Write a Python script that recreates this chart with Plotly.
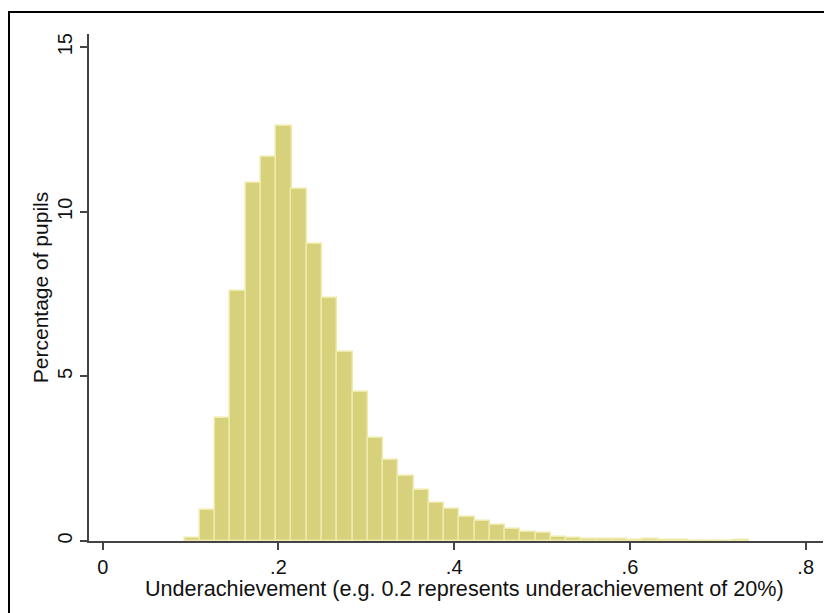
import plotly.graph_objects as go

# Histogram bins (centres, width) and percentages
bin_centers = [0.1020, 0.1194, 0.1367, 0.1541, 0.1714, 0.1888, 0.2062, 0.2235,
               0.2409, 0.2582, 0.2756, 0.2930, 0.3103, 0.3277, 0.3450, 0.3624,
               0.3798, 0.3971, 0.4145, 0.4318, 0.4492, 0.4666, 0.4839, 0.5013,
               0.5186, 0.5360, 0.5534, 0.5707, 0.5881, 0.6054, 0.6228, 0.6402,
               0.6575, 0.6749, 0.6922, 0.7096, 0.7270]
bin_width = 0.01736
pct_pupils = [0.10, 0.93, 3.74, 7.59, 10.86, 11.67, 12.60, 10.70,
              9.01, 7.37, 5.75, 4.53, 3.14, 2.45, 1.98, 1.55,
              1.14, 0.97, 0.74, 0.62, 0.49, 0.36, 0.26, 0.25,
              0.13, 0.10, 0.07, 0.06, 0.05, 0.03, 0.07, 0.04,
              0.03, 0.0, 0.0, 0.0, 0.02]

x_tickvals = [0, 0.2, 0.4, 0.6, 0.8]
x_ticktext = ["0", ".2", ".4", ".6", ".8"]
y_tickvals = [0, 5, 10, 15]
y_ticktext = ["0", "5", "10", "15"]

x_title = "Underachievement (e.g. 0.2 represents underachievement of 20%)"
y_title = "Percentage of pupils"

fig = go.Figure(go.Bar(
    x=bin_centers, y=pct_pupils, width=bin_width,
    marker=dict(color="rgb(216,209,124)",
                line=dict(color="rgb(238,234,170)", width=1.5)),
    hoverinfo="x+y",
))

# page body adds an 8px offset, margins compensate for it
PL, PR, PT, PB = 89, 823, 34, 541   # plot area in page pixels
PW, PH = PR - PL, PB - PT

axis_col = "#444444"
fig.update_layout(
    width=832, height=613,
    margin=dict(l=81, r=17, t=26, b=80),
    paper_bgcolor="white", plot_bgcolor="white",
    font=dict(family="Liberation Sans, Arial, sans-serif", color="#111111", size=20),
    showlegend=False,
    bargap=0,
    xaxis=dict(range=[-0.0156, 0.8197], tickvals=x_tickvals, ticktext=x_ticktext,
               showline=True, linecolor=axis_col, linewidth=1.5,
               ticks="outside", ticklen=7, tickwidth=1.5, tickcolor=axis_col,
               showgrid=False, zeroline=False, automargin=False,
               tickfont=dict(size=20)),
    yaxis=dict(range=[0, 15.4], tickvals=y_tickvals, ticktext=y_ticktext,
               showline=True, linecolor=axis_col, linewidth=1.5,
               ticks="outside", ticklen=7, tickwidth=1.5, tickcolor=axis_col,
               showgrid=False, zeroline=False, tickangle=-90, automargin=False,
               tickfont=dict(size=20),
               title=dict(text=y_title, font=dict(size=21), standoff=0)),
    annotations=[dict(text=x_title, xref="paper", yref="paper",
                      x=(464 - PL) / PW, y=(PB - 588) / PH,
                      xanchor="center", yanchor="middle", showarrow=False,
                      font=dict(size=21.6))],
    shapes=[dict(type="rect", xref="paper", yref="paper",
                 x0=(9 - PL) / PW, x1=1.1, y0=-0.3, y1=(PB - 12) / PH,
                 line=dict(color="black", width=2), fillcolor="rgba(0,0,0,0)",
                 layer="above")],
)

fig.write_html("out.html")
